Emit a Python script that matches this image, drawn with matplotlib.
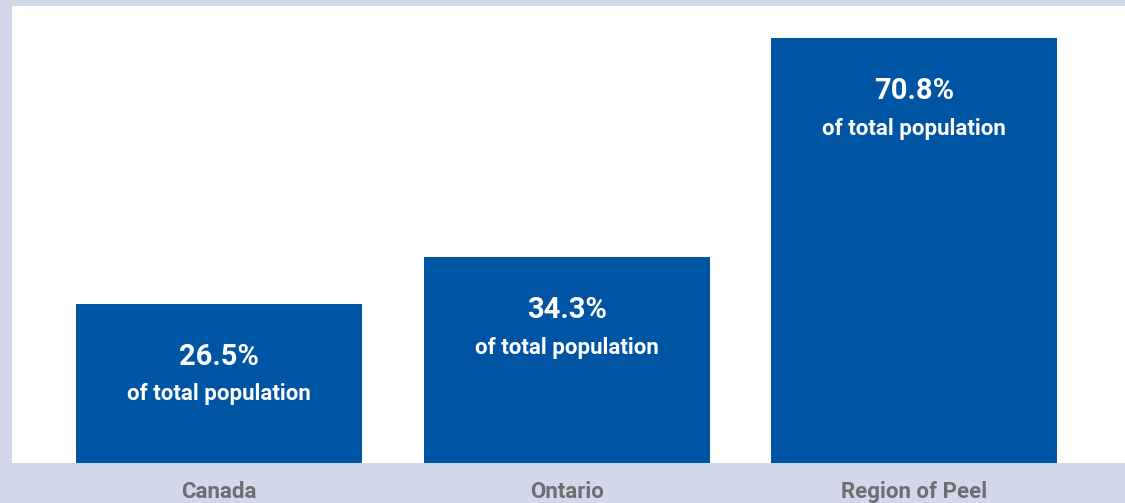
import matplotlib.pyplot as plt

regions = ["Canada", "Ontario", "Region of Peel"]
shares = [26.5, 34.3, 70.8]
sub_label = "of total population"

BG = "#d3d7ea"
BLUE = "#0054a4"
GREY = "#6d6e70"

plt.rcParams["font.family"] = ["Roboto", "DejaVu Sans"]

fig = plt.figure(figsize=(11.25, 5.03), dpi=100, facecolor=BG)
ax = fig.add_axes([12 / 1125, 40 / 503, 1113 / 1125, 457 / 503])
ax.set_facecolor("white")

x = list(range(len(regions)))
ax.bar(x, shares, width=0.823, color=BLUE)
ax.set_xlim(-0.596, 2.607)
ax.set_ylim(0, 76.2)

for xi, v in zip(x, shares):
    ax.annotate(f"{v}%", (xi, v), xytext=(0, -38), textcoords="offset points",
                ha="center", va="center", color="white", fontsize=21, fontweight="bold")
    ax.annotate(sub_label, (xi, v), xytext=(0, -65), textcoords="offset points",
                ha="center", va="center", color="white", fontsize=16, fontweight="bold")
    ax.annotate(regions[xi], (xi, 0), xytext=(0, -21), textcoords="offset points",
                ha="center", va="center", color=GREY, fontsize=16, fontweight="bold",
                annotation_clip=False)

for s in ax.spines.values():
    s.set_visible(False)
ax.set_xticks([])
ax.set_yticks([])

fig.savefig("out.png", dpi=100, facecolor=BG)
